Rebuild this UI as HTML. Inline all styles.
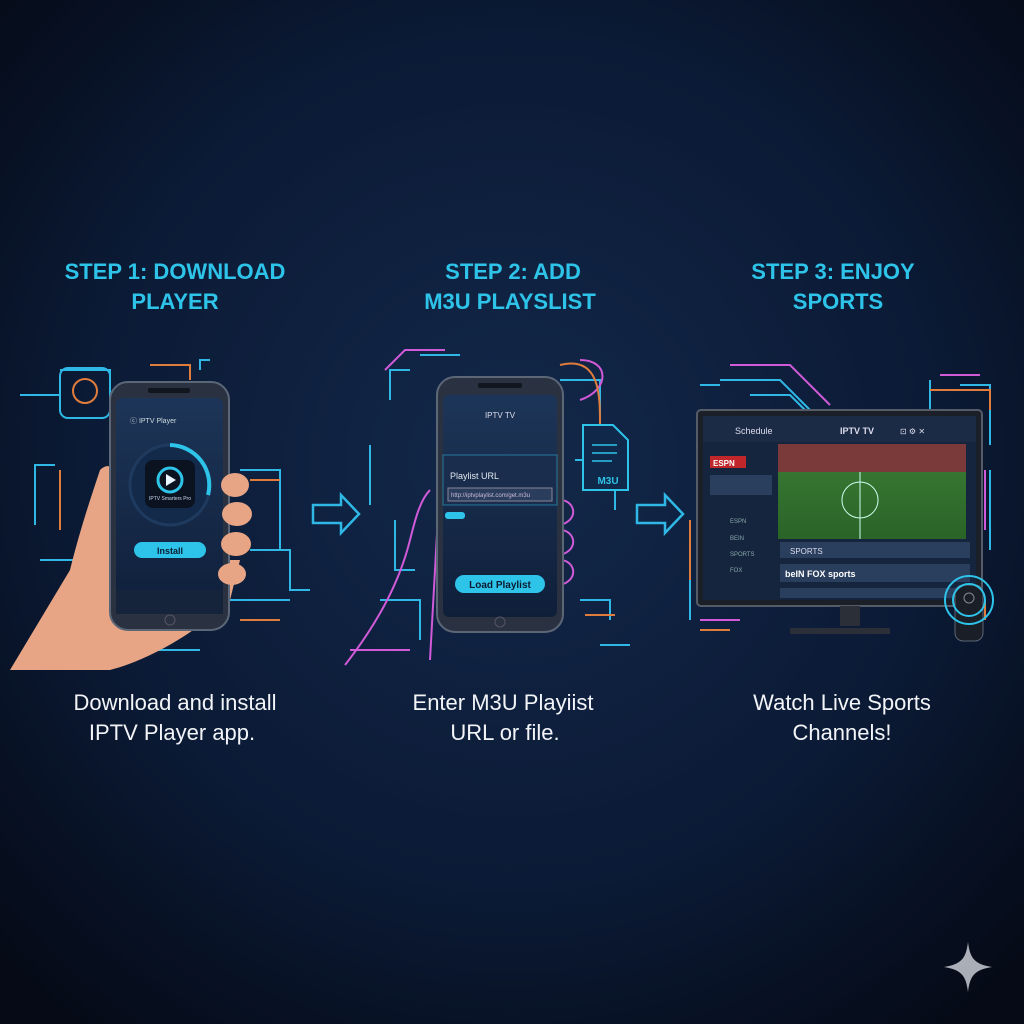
<!DOCTYPE html>
<html><head><meta charset="utf-8"><style>
html,body{margin:0;padding:0;background:#081226;}
svg{display:block}
</style></head><body>
<svg width="1024" height="1024" viewBox="0 0 1024 1024" xmlns="http://www.w3.org/2000/svg" font-family="Liberation Sans, sans-serif">
<defs>
<radialGradient id="bg" cx="50%" cy="45%" r="70%">
<stop offset="0" stop-color="#13284a"/><stop offset="0.6" stop-color="#0b1a35"/><stop offset="1" stop-color="#050a16"/>
</radialGradient>
<linearGradient id="scr" x1="0" y1="0" x2="0" y2="1"><stop offset="0" stop-color="#1d3558"/><stop offset="1" stop-color="#0f1f3a"/></linearGradient>
<linearGradient id="field" x1="0" y1="0" x2="0" y2="1"><stop offset="0" stop-color="#3b7d35"/><stop offset="1" stop-color="#2a6428"/></linearGradient>
</defs>
<rect width="1024" height="1024" fill="url(#bg)"/>

<g font-weight="bold" fill="#2ec4ea" font-size="22" text-anchor="middle">
<text x="175" y="279">STEP 1: DOWNLOAD</text><text x="175" y="309">PLAYER</text>
<text x="513" y="279">STEP 2: ADD</text><text x="510" y="309">M3U PLAYSLIST</text>
<text x="833" y="279">STEP 3: ENJOY</text><text x="838" y="309">SPORTS</text>
</g>
<g fill="#f2f4f8" font-size="22" text-anchor="middle">
<text x="175" y="710">Download and install</text><text x="172" y="740">IPTV Player app.</text>
<text x="503" y="710">Enter M3U Playiist</text><text x="505" y="740">URL or file.</text>
<text x="842" y="710">Watch Live Sports</text><text x="842" y="740">Channels!</text>
</g>

<!-- circuit lines -->
<g fill="none" stroke-width="2">
<path d="M60 370 h50 v25 M20 395 h40 M55 465 h-20 v60 M40 560 h50 M140 650 h60 M240 470 h40 v80 M250 550 h40 v40 h20 M230 600 h60 M200 370 v-10 h10" stroke="#2fb8e6"/>
<path d="M150 365 h40 v15 M250 480 h30 M240 620 h40 M60 470 v60" stroke="#e07c3c"/>
<rect x="60" y="368" width="50" height="50" rx="8" stroke="#2fb8e6"/>
<circle cx="85" cy="391" r="12" stroke="#e07c3c"/>
<path d="M390 400 v-30 h20 M370 445 v60 M395 520 v50 h20 M420 355 h40 M380 600 h40 v40 M560 380 h40 v40 M575 460 h40 v50 M580 600 h30 v20 M600 645 h30" stroke="#2fb8e6"/>
<path d="M385 370 l20 -20 h40 M580 360 c30 0 30 30 0 40 M350 650 h60" stroke="#d05ad8"/>
<path d="M560 365 c40 -10 40 30 40 60 M585 615 h30" stroke="#e07c3c"/>
<path d="M720 380 h60 l40 40 M750 395 h40 l30 30 M930 380 v30 M960 385 h30 v60 M990 470 v80 M690 560 v60 M710 600 h40 M700 385 h20" stroke="#2fb8e6"/>
<path d="M730 365 h60 l40 40 M940 375 h40 M985 470 v60 M700 620 h40" stroke="#d05ad8"/>
<path d="M930 390 h60 v20 M690 580 v-60 M700 630 h30 M985 600 v20" stroke="#e07c3c"/>
</g>

<!-- arrows -->
<g fill="none" stroke="#2fb8e6" stroke-width="2.5">
<path d="M313 505 h28 v-10 l18 19 l-18 19 v-10 h-28 z"/>
<path d="M637 505 h28 v-10 l18 19 l-18 19 v-10 h-28 z"/>
</g>

<!-- hand 1 -->
<path d="M10 670 L70 570 C80 530 90 500 100 470 C110 460 120 470 115 490 L118 560 L240 560 L230 600 C200 630 150 660 110 670 Z" fill="#e7a585"/>
<!-- phone 1 -->
<rect x="110" y="382" width="119" height="248" rx="18" fill="#2a3140" stroke="#5b6677" stroke-width="2"/>
<rect x="116" y="398" width="107" height="216" rx="6" fill="url(#scr)"/>
<rect x="148" y="388" width="42" height="5" rx="2" fill="#11161f"/>
<text x="130" y="423" font-size="7" fill="#cdd">ⓒ  IPTV Player</text>
<circle cx="170" cy="485" r="40" fill="#132a4a" stroke="#1e3a5e" stroke-width="3"/>
<path d="M170 445 a40 40 0 0 1 38 50" stroke="#2ec4ea" stroke-width="4" fill="none"/>
<rect x="145" y="460" width="50" height="48" rx="8" fill="#0b1220"/>
<circle cx="170" cy="480" r="12" fill="none" stroke="#2ec4ea" stroke-width="3"/>
<path d="M166 474 l10 6 l-10 6z" fill="#e8f7ff"/>
<text x="170" y="500" font-size="5" fill="#cde" text-anchor="middle">IPTV Smarters Pro</text>
<rect x="134" y="542" width="72" height="16" rx="8" fill="#2ec4ea"/>
<text x="170" y="554" font-size="9" fill="#0b1a30" text-anchor="middle" font-weight="bold">Install</text>
<rect x="116" y="590" width="107" height="24" fill="#15233b"/>
<circle cx="170" cy="620" r="5" fill="none" stroke="#556"/>
<!-- fingers -->
<g fill="#e7a585">
<ellipse cx="235" cy="485" rx="14" ry="12"/><ellipse cx="237" cy="514" rx="15" ry="12"/><ellipse cx="236" cy="544" rx="15" ry="12"/><ellipse cx="232" cy="574" rx="14" ry="11"/>
</g>

<!-- hand 2 outline -->
<path d="M345 665 C380 620 400 580 410 540 C415 520 420 500 430 490 M440 480 L430 660 M560 500 c15 0 20 20 0 25 M560 530 c15 0 20 20 0 25 M560 560 c15 0 20 20 0 25" fill="none" stroke="#d05ad8" stroke-width="2"/>
<!-- phone 2 -->
<rect x="437" y="377" width="126" height="255" rx="18" fill="#2a3140" stroke="#5b6677" stroke-width="2"/>
<rect x="443" y="395" width="114" height="222" rx="6" fill="url(#scr)"/>
<rect x="478" y="383" width="44" height="5" rx="2" fill="#11161f"/>
<text x="500" y="418" font-size="8" fill="#dde" text-anchor="middle">IPTV TV</text>
<rect x="443" y="455" width="114" height="50" fill="#1a2d4c" stroke="#2ec4ea" stroke-opacity="0.5"/>
<text x="450" y="479" font-size="9" fill="#e0e8f0">Playlist URL</text>
<rect x="448" y="488" width="104" height="13" fill="#2a3d5c" stroke="#889"/>
<text x="451" y="497" font-size="6" fill="#cbd">http://iptvplaylist.com/get.m3u</text>
<rect x="445" y="512" width="20" height="7" rx="3" fill="#2ec4ea"/>
<rect x="455" y="575" width="90" height="18" rx="9" fill="#2ec4ea"/>
<text x="500" y="588" font-size="10" fill="#0b1a30" text-anchor="middle" font-weight="bold">Load Playlist</text>
<circle cx="500" cy="622" r="5" fill="none" stroke="#556"/>
<!-- file icon -->
<path d="M583 425 h30 l15 15 v50 h-45 z" fill="#10284a" stroke="#2ec4ea" stroke-width="2"/>
<text x="608" y="484" font-size="10" fill="#2ec4ea" text-anchor="middle" font-weight="bold">M3U</text>
<path d="M592 445 h25 M592 453 h25 M592 461 h20" stroke="#2ec4ea" stroke-width="1.5"/>

<!-- TV -->
<rect x="697" y="410" width="285" height="196" rx="4" fill="#1b1f27" stroke="#555c68" stroke-width="2"/>
<rect x="703" y="416" width="273" height="184" fill="#16253e"/>
<rect x="703" y="416" width="273" height="26" fill="#1c2b45"/>
<text x="735" y="434" font-size="9" fill="#dde">Schedule</text>
<text x="840" y="434" font-size="9" fill="#dde" font-weight="bold">IPTV TV</text>
<text x="900" y="434" font-size="8" fill="#dde">⊡  ⚙  ✕</text>
<rect x="778" y="444" width="188" height="95" fill="url(#field)"/>
<rect x="778" y="444" width="188" height="28" fill="#7a3a3a"/>
<circle cx="860" cy="500" r="18" fill="none" stroke="#cfe" stroke-width="1"/>
<path d="M860 472 v67" stroke="#cfe"/>
<rect x="710" y="456" width="36" height="12" fill="#c0262a"/>
<text x="713" y="466" font-size="8" fill="#fff" font-weight="bold">ESPN</text>
<g fill="#2a3e5e"><rect x="710" y="475" width="62" height="20"/><rect x="780" y="542" width="190" height="16"/><rect x="780" y="564" width="190" height="18"/><rect x="780" y="588" width="190" height="10"/></g>
<g fill="#8aa" font-size="6"><text x="730" y="523">ESPN</text><text x="730" y="540">BEIN</text><text x="730" y="556">SPORTS</text><text x="730" y="572">FOX</text></g>
<text x="790" y="554" font-size="8" fill="#dde">SPORTS</text>
<text x="785" y="577" font-size="9" fill="#fff" font-weight="bold">beIN  FOX  sports</text>
<path d="M840 606 h20 v20 h-20z M790 628 h100 v6 h-100z" fill="#2a2f38"/>
<!-- remote -->
<rect x="955" y="585" width="28" height="56" rx="8" fill="#1a1e26" stroke="#5b6677"/>
<circle cx="969" cy="598" r="5" fill="none" stroke="#889"/>
<g fill="none" stroke="#2ec4ea" stroke-width="2"><circle cx="969" cy="600" r="16"/><circle cx="969" cy="600" r="24"/></g>

<!-- star -->
<path d="M968 942 C970 958 974 964 992 967 C974 970 970 976 968 992 C966 976 962 970 944 967 C962 964 966 958 968 942Z" fill="#c8ccd4" opacity="0.85"/>
</svg>
</body></html>
